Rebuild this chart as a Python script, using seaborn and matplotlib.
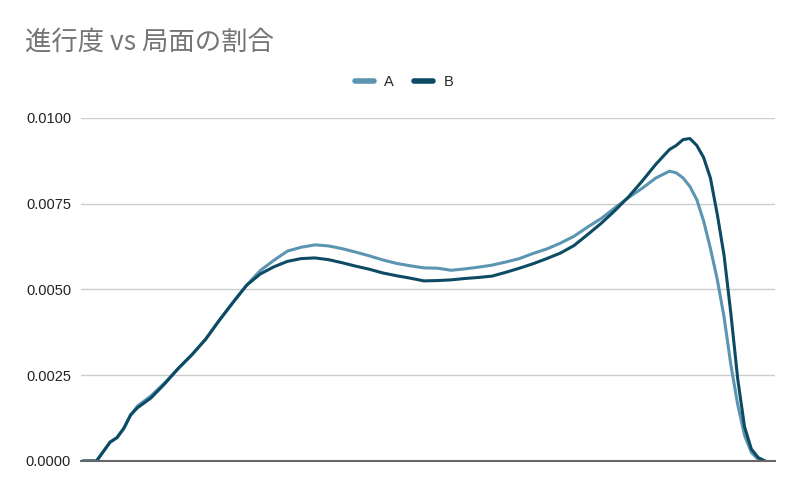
import pandas as pd
import matplotlib
matplotlib.use("Agg")
import matplotlib.pyplot as plt
import seaborn as sns

# progress (0-100) and share of positions for the two series
progress = [0, 2, 4, 5, 6, 7, 8, 10, 12, 14, 16, 18, 20, 22, 24, 26, 28, 30,
            32, 34, 36, 38, 40, 42, 44, 46, 48, 50, 52, 54, 56, 58, 60, 62,
            64, 66, 68, 70, 72, 74, 76, 78, 80, 82, 84, 86, 87, 88, 89, 90,
            91, 92, 93, 94, 95, 96, 97, 98, 99, 100]

series_a = [0, 0, 0.00055, 0.00068, 0.00095, 0.00134, 0.0016, 0.0019, 0.00228,
            0.0027, 0.0031, 0.00355, 0.0041, 0.00462, 0.00512, 0.00555, 0.00585,
            0.00612, 0.00623, 0.0063, 0.00627, 0.00619, 0.00609, 0.00598, 0.00586,
            0.00576, 0.00569, 0.00563, 0.00562, 0.00556, 0.0056, 0.00565, 0.00571,
            0.0058, 0.0059, 0.00605, 0.00618, 0.00635, 0.00655, 0.00682, 0.00707,
            0.00738, 0.00768, 0.00795, 0.00825, 0.00845, 0.0084, 0.00825, 0.008,
            0.00762, 0.007, 0.0062, 0.0053, 0.0042, 0.0028, 0.00165, 0.00075,
            0.00025, 0.00005, 0]

series_b = [0, 0, 0.00055, 0.00068, 0.00095, 0.00134, 0.00155, 0.00184, 0.00225,
            0.0027, 0.0031, 0.00355, 0.0041, 0.00462, 0.00512, 0.00545, 0.00566,
            0.00582, 0.0059, 0.00592, 0.00587, 0.00578, 0.00568, 0.00559, 0.00548,
            0.0054, 0.00533, 0.00525, 0.00526, 0.00528, 0.00532, 0.00535, 0.00539,
            0.0055, 0.00562, 0.00575, 0.0059, 0.00606, 0.00628, 0.0066, 0.00693,
            0.0073, 0.0077, 0.00816, 0.00865, 0.00908, 0.0092, 0.00937, 0.0094,
            0.0092, 0.00885, 0.00825, 0.0072, 0.006, 0.0043, 0.0024, 0.001,
            0.00035, 0.0001, 0]

y_ticks = [0.0, 0.0025, 0.005, 0.0075, 0.01]

df = pd.DataFrame({
    "progress": progress * 2,
    "ratio": series_a + series_b,
    "series": ["A"] * len(progress) + ["B"] * len(progress),
})

sns.set_theme(style="white")
plt.rcParams["font.family"] = ["Liberation Sans", "Noto Sans CJK JP", "DejaVu Sans"]

fig = plt.figure(figsize=(8, 4.95), dpi=100)
ax = fig.add_axes([0.101, 0.0687, 0.868, 0.693])

palette = {"A": "#5b95b1", "B": "#0d4a64"}
sns.lineplot(data=df, x="progress", y="ratio", hue="series", palette=palette,
             linewidth=2.2, ax=ax, legend=False)

ax.set_xlim(-0.3, 101.5)
ax.set_ylim(0, 0.01)
ax.set_yticks(y_ticks)
ax.set_yticklabels([f"{v:.4f}" for v in y_ticks], fontsize=10.5, color="#222222")
ax.set_xticks([])
ax.set_xlabel("")
ax.set_ylabel("")
ax.tick_params(axis="y", length=0, pad=7)
ax.grid(axis="y", color="#cccccc", linewidth=1)
for side in ["top", "right", "left"]:
    ax.spines[side].set_visible(False)
ax.spines["bottom"].set_color("#666666")
ax.spines["bottom"].set_linewidth(1.5)

fig.text(0.031, 0.915, "進行度 vs 局面の割合", fontsize=19, color="#757575",
         family=["Noto Sans CJK JP", "DejaVu Sans"], va="center")

handles = [plt.Line2D([], [], color=palette[k], linewidth=4) for k in ["A", "B"]]
fig.legend(handles, ["A", "B"], loc="center", bbox_to_anchor=(0.505, 0.834),
           ncol=2, frameon=False, fontsize=10.5, handlelength=1.3,
           handletextpad=0.7, columnspacing=1.4)

fig.savefig("out.png", dpi=100)
